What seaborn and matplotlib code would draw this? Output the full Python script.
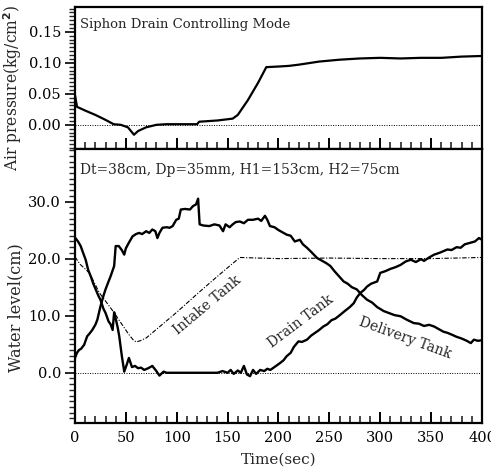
import numpy as np
import pandas as pd
import matplotlib
matplotlib.use("Agg")
import matplotlib.pyplot as plt
import seaborn as sns
from matplotlib.ticker import MultipleLocator, FixedLocator

# ---------------- data ----------------
air_t = [0, 2, 10, 20, 30, 38, 45, 52, 58, 62, 70, 80, 90, 100, 110, 120, 122, 140,
         155, 160, 170, 180, 188, 200, 210, 220, 240, 260, 280, 300, 320, 340, 360, 380, 400]
air_p = [0.048, 0.029, 0.023, 0.016, 0.008, 0.001, 0.000, -0.004, -0.016, -0.010, -0.004,
         0.000, 0.001, 0.001, 0.001, 0.001, 0.005, 0.007, 0.010, 0.016, 0.040, 0.068, 0.093,
         0.094, 0.095, 0.097, 0.102, 0.105, 0.107, 0.108, 0.107, 0.108, 0.108, 0.110, 0.111]

drain_t = [0, 3, 5.6, 8, 10.5, 13, 15.5, 18, 20.4, 23, 25, 28, 30, 33, 35, 37, 38.5, 40, 42,
           43.5, 46, 48.4, 51, 53, 56, 59, 62, 65, 68, 72, 76, 80, 83, 87, 90, 94, 100, 110,
           120, 130, 140, 145, 150, 153, 156, 160, 163, 166, 169, 172, 175, 178, 182, 186,
           189, 192, 196, 201.5, 205, 208, 212, 215, 219.6, 223, 228, 232, 236, 240, 244,
           248, 252, 256, 261, 265, 270, 274, 277, 280.5, 284, 287, 291, 297, 300, 305, 310,
           315, 320, 325, 330, 335, 340, 343, 348, 353, 358, 362, 366, 370, 375, 379, 383,
           389, 393, 397, 400]
drain_h = [23.7, 23.0, 22.2, 21.0, 19.8, 18.0, 16.9, 15.6, 14.6, 13.5, 12.8, 11.2, 10.5, 9.0,
           8.5, 7.5, 10.6, 9.5, 7.9, 6.4, 3.0, 0.2, 1.5, 2.6, 1.0, 1.2, 0.8, 0.9, 0.5, 0.8,
           1.2, 0.3, -0.5, 0.2, 0.0, 0.0, 0.0, 0.0, 0.0, 0.0, 0.0, 0.3, 0.0, 0.5, -0.2, 0.4,
           0.0, 1.2, -0.3, -0.6, 0.5, -0.2, 0.5, 0.3, 0.7, 0.5, 1.0, 1.7, 2.2, 2.9, 3.5, 4.5,
           5.5, 5.4, 5.8, 6.5, 7.0, 7.5, 8.1, 8.5, 9.2, 9.5, 10.2, 10.8, 11.5, 12.2, 13.2,
           14.0, 14.5, 15.1, 15.6, 16.0, 17.5, 17.8, 18.2, 18.5, 18.9, 19.5, 19.8, 19.4, 19.9,
           19.6, 20.2, 20.7, 21.0, 21.3, 21.6, 21.5, 22.0, 21.9, 22.5, 22.8, 23.0, 23.6, 23.3]

deliv_t = [0, 2, 4, 6, 9, 12, 14, 17, 20, 22, 25, 28, 30, 33, 35, 38.5, 40, 43, 46, 48.4, 50,
           53, 56.6, 60, 63, 66, 70, 73, 76, 79, 81, 83, 86, 90, 93, 96, 99.5, 102, 104, 108,
           113, 116, 119, 121, 122.5, 126, 132, 137, 142, 145.5, 148, 152, 155, 158, 162,
           166, 170, 175, 180, 183, 186.7, 189, 191.6, 196, 200, 204, 208, 212, 216, 221,
           224, 228, 232, 238, 243, 247, 251, 255, 260, 264, 268, 272, 277, 282, 287, 292,
           297, 303.5, 308, 314, 320, 326, 333, 338, 343, 348, 353, 358, 362, 366, 370, 375,
           380, 385, 389, 392, 396, 400]
deliv_h = [2.6, 3.5, 4.0, 4.2, 4.9, 6.4, 6.8, 7.5, 8.4, 9.3, 11.6, 13.5, 14.6, 16.0, 16.9,
           18.7, 22.2, 22.2, 21.5, 20.7, 21.8, 22.8, 23.9, 24.3, 24.5, 24.3, 24.8, 24.5, 25.1,
           24.8, 23.6, 24.5, 25.4, 25.5, 25.4, 25.7, 26.8, 27.0, 28.6, 28.7, 28.6, 29.2, 29.5,
           30.5, 26.0, 25.8, 25.7, 26.0, 25.8, 24.8, 26.0, 25.5, 26.0, 26.4, 26.5, 26.2, 26.8,
           26.8, 27.0, 26.6, 27.5, 26.8, 25.7, 25.5, 25.0, 24.6, 24.2, 24.0, 23.0, 23.3, 22.5,
           21.9, 21.2, 20.1, 19.6, 19.2, 18.7, 17.8, 16.8, 16.0, 15.6, 15.0, 14.6, 13.6, 12.8,
           12.3, 11.5, 10.8, 10.5, 10.1, 9.9, 9.3, 8.7, 8.6, 8.2, 8.4, 8.1, 7.6, 7.2, 7.0, 6.7,
           6.3, 6.0, 5.6, 5.2, 5.8, 5.6, 5.7]

intake_t = [0, 5, 10, 14, 19, 24, 29, 34, 39, 43, 48, 53, 57, 60, 64, 70, 80, 100, 120, 140,
            162, 180, 200, 250, 300, 350, 400]
intake_h = [20.3, 19.0, 18.2, 17.5, 15.8, 14.0, 12.8, 11.6, 10.4, 9.3, 8.0, 6.7, 5.8, 5.4,
            5.6, 6.1, 7.6, 10.6, 13.8, 16.9, 20.2, 20.1, 20.0, 20.1, 20.0, 20.0, 20.2]

x_ticks = [0, 50, 100, 150, 200, 250, 300, 350, 400]
air_ticks = [0.00, 0.05, 0.10, 0.15]
air_labels = ["0.00", "0.05", "0.10", "0.15"]
lvl_ticks = [0.0, 10.0, 20.0, 30.0]
lvl_labels = ["0.0", "10.0", "20.0", "30.0"]

# ---------------- style ----------------
sns.set_theme(style="ticks")
plt.rcParams["font.family"] = ["DejaVu Serif"]
plt.rcParams["axes.linewidth"] = 1.6

fig = plt.figure(figsize=(4.91, 4.72), dpi=100)
ax1 = fig.add_axes([0.1527, 0.6843, 0.829, 0.3009])
ax2 = fig.add_axes([0.1527, 0.1038, 0.829, 0.5805])

df_air = pd.DataFrame({"t": air_t, "p": air_p})
sns.lineplot(data=df_air, x="t", y="p", ax=ax1, color="black", lw=1.6, sort=False)
ax1.axhline(0, color="black", lw=0.7, ls=(0, (1, 1.5)))

df_dr = pd.DataFrame({"t": drain_t, "h": drain_h})
df_de = pd.DataFrame({"t": deliv_t, "h": deliv_h})
df_in = pd.DataFrame({"t": intake_t, "h": intake_h})
sns.lineplot(data=df_dr, x="t", y="h", ax=ax2, color="black", lw=1.7, sort=False)
sns.lineplot(data=df_de, x="t", y="h", ax=ax2, color="black", lw=1.7, sort=False)
sns.lineplot(data=df_in, x="t", y="h", ax=ax2, color="black", lw=0.8, sort=False,
             linestyle=(0, (4, 1.5, 1, 1.5)))
ax2.axhline(0, color="black", lw=0.7, ls=(0, (1, 1.5)))

for ax in (ax1, ax2):
    ax.set_xlim(0, 400)
    ax.xaxis.set_major_locator(FixedLocator(x_ticks))
    ax.xaxis.set_minor_locator(MultipleLocator(10))
    ax.tick_params(axis="x", which="both", bottom=True, top=False)
    ax.tick_params(axis="y", which="both", left=True, right=False)
    ax.tick_params(axis="x", which="major", direction="in", length=8, width=1.4,
                   labelsize=10.5, colors="black", pad=6)
    ax.tick_params(axis="x", which="minor", direction="in", length=5, width=1.2)
    ax.tick_params(axis="y", which="major", direction="out", length=7, width=1.2,
                   labelsize=10.5, colors="black", pad=3)
    ax.tick_params(axis="y", which="minor", direction="out", length=4, width=1.0)
    for s in ax.spines.values():
        s.set_visible(True)
        s.set_color("black")
        s.set_linewidth(1.6)
        s.set_zorder(3)

ax1.set_ylim(-0.039, 0.19)
ax1.set_yticks(air_ticks)
ax1.set_yticklabels(air_labels)
ax1.yaxis.set_minor_locator(MultipleLocator(0.00625))
ax1.set_xticklabels([])
ax1.set_xlabel("")
ax1.set_ylabel("Air pressure(kg/cm$^\\mathbf{2}$)", fontsize=11.2)
ax1.yaxis.set_label_coords(-0.125, 0.43)
ax1.text(0.012, 0.875, "Siphon Drain Controlling Mode", transform=ax1.transAxes,
         fontsize=9.5, va="center", ha="left")

ax2.set_ylim(-8.8, 39.2)
ax2.set_yticks(lvl_ticks)
ax2.set_yticklabels(lvl_labels)
ax2.yaxis.set_minor_locator(MultipleLocator(1))
ax2.set_xticklabels([str(v) for v in x_ticks])
ax2.set_xlabel("Time(sec)", fontsize=11, labelpad=5)
ax2.set_ylabel("Water level(cm)", fontsize=11.5)
ax2.yaxis.set_label_coords(-0.125, 0.42)
ax2.text(0.012, 0.925, "Dt=38cm, Dp=35mm, H1=153cm, H2=75cm", transform=ax2.transAxes,
         fontsize=10, va="center", ha="left")

ax2.text(130, 11.9, "Intake Tank", rotation=40, fontsize=10, ha="center", va="center",
         rotation_mode="anchor")
ax2.text(222, 9.0, "Drain Tank", rotation=37, fontsize=10, ha="center", va="center",
         rotation_mode="anchor")
ax2.text(324, 6.1, "Delivery Tank", rotation=-20, fontsize=10, ha="center", va="center",
         rotation_mode="anchor")

fig.savefig("out.png", dpi=100)
